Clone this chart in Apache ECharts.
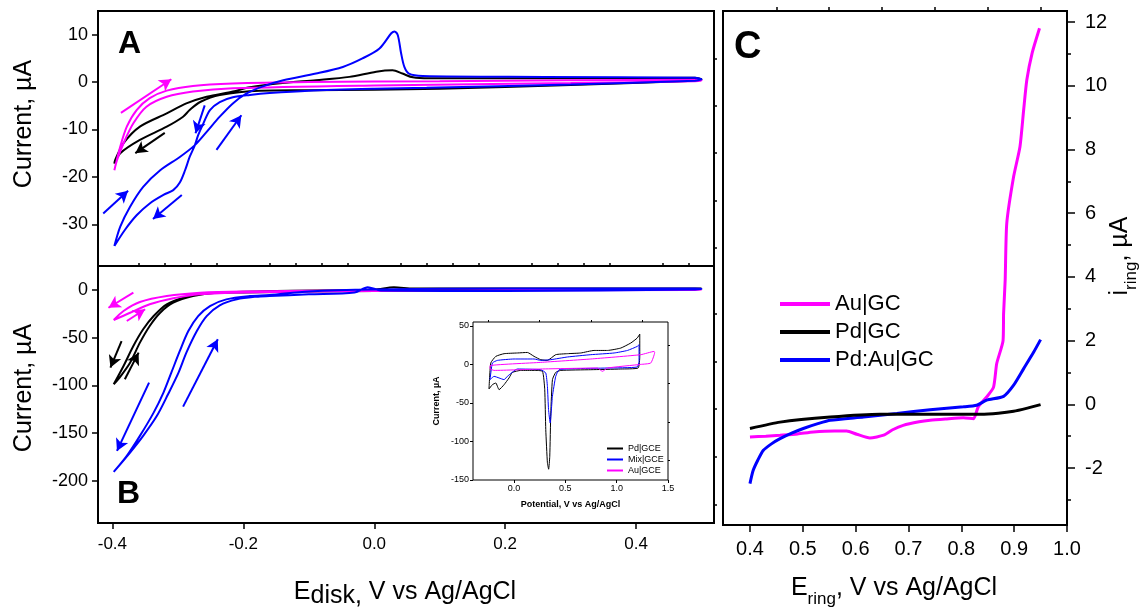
<!DOCTYPE html>
<html><head><meta charset="utf-8">
<script src="https://cdn.jsdelivr.net/npm/echarts@6/dist/echarts.min.js"></script>
<style>html,body{margin:0;padding:0;background:#fff}#c{width:1142px;height:609px}</style>
</head><body><div id="c"></div>
<script>
const FONT = "'Liberation Sans', Arial, Helvetica, sans-serif";

// ---------- Panel A (CV, small scale) : [E (V), I (uA)] ----------
const aBlack = [[-0.397,-17.2],[-0.396,-16.5],[-0.383,-12.9],[-0.358,-9.4],[-0.317,-6.6],[-0.287,-4.5],[-0.256,-3.1],[-0.216,-2.0],[-0.19,-1.1],[-0.14,-0.2],[-0.089,0.4],[-0.038,1.1],[0.003,2.2],[0.028,2.5],[0.043,1.8],[0.059,1.0],[0.084,0.8],[0.3,0.8],[0.49,0.9],[0.5,0.6],[0.49,0.3],[0.3,-0.6],[0.1,-1.4],[0.0,-1.6],[-0.1,-1.7],[-0.175,-1.8],[-0.236,-2.7],[-0.266,-4.2],[-0.282,-5.9],[-0.292,-7.3],[-0.317,-9.4],[-0.358,-12.2],[-0.388,-15.0],[-0.397,-17.2]];
const aPink = [[-0.397,-18.6],[-0.388,-13.6],[-0.378,-9.4],[-0.363,-5.9],[-0.343,-3.4],[-0.317,-1.8],[-0.277,-0.8],[-0.216,-0.3],[-0.1,0.0],[0.1,0.2],[0.49,0.5],[0.5,0.4],[0.49,0.2],[0.3,-0.2],[0.0,-0.7],[-0.216,-1.3],[-0.277,-2.0],[-0.317,-3.1],[-0.348,-5.2],[-0.368,-8.7],[-0.383,-12.9],[-0.393,-16.5],[-0.397,-18.6]];
const aBlue = [[-0.397,-34.6],[-0.388,-30.5],[-0.373,-26.3],[-0.353,-22.1],[-0.327,-18.6],[-0.297,-15.8],[-0.274,-13.3],[-0.256,-10.5],[-0.236,-7.3],[-0.216,-4.5],[-0.195,-2.4],[-0.17,-0.9],[-0.139,0.4],[-0.089,1.8],[-0.048,3.2],[-0.018,5.0],[0.008,7.1],[0.026,10.3],[0.031,10.7],[0.036,9.9],[0.041,6.1],[0.046,3.2],[0.053,1.8],[0.074,1.3],[0.26,1.1],[0.49,0.9],[0.5,0.6],[0.49,0.3],[0.3,-0.5],[0.08,-1.2],[0.0,-1.4],[-0.1,-1.8],[-0.16,-2.3],[-0.19,-2.7],[-0.216,-3.2],[-0.236,-4.2],[-0.251,-5.9],[-0.261,-8.7],[-0.269,-11.2],[-0.274,-13.3],[-0.282,-15.8],[-0.289,-18.6],[-0.297,-21.2],[-0.307,-22.8],[-0.322,-23.8],[-0.343,-25.6],[-0.363,-28.1],[-0.381,-31.2],[-0.397,-34.6]];
// arrows: [x0, y0, x1, y1]
const aArrowsBlue = [[-0.414,-27.7,-0.376,-22.9],[-0.294,-23.8,-0.338,-28.9],[-0.259,-4.9,-0.273,-10.8],[-0.241,-14.3,-0.203,-7.0]];
const aArrowsBlack = [[-0.320,-10.7,-0.365,-15.0]];
const aArrowsPink = [[-0.387,-6.5,-0.31,0.6]];

// ---------- Panel B (CV, large scale) ----------
const bBlack = [[-0.398,-98.9],[-0.391,-93.6],[-0.373,-76.2],[-0.358,-55.2],[-0.343,-37.7],[-0.327,-23.8],[-0.307,-13.3],[-0.277,-6.3],[-0.241,-2.8],[-0.15,-1.0],[0.0,0.5],[0.03,3.0],[0.06,1.5],[0.49,1.5],[0.5,1.5],[0.49,1.0],[0.2,0.0],[0.0,-1.0],[-0.2,-2.5],[-0.256,-3.5],[-0.291,-8.0],[-0.317,-15.0],[-0.337,-27.3],[-0.353,-41.2],[-0.368,-58.7],[-0.383,-79.7],[-0.398,-98.9]];
const bPink = [[-0.398,-31.5],[-0.373,-23.8],[-0.343,-15.0],[-0.307,-8.7],[-0.266,-4.5],[-0.2,-2.5],[0.0,-1.0],[0.49,0.5],[0.5,0.5],[0.49,0.0],[0.0,-0.5],[-0.2,-1.5],[-0.266,-2.8],[-0.317,-6.3],[-0.358,-12.6],[-0.383,-22.0],[-0.398,-31.5]];
const bBlue = [[-0.398,-190.8],[-0.373,-170.5],[-0.353,-153],[-0.332,-132],[-0.315,-109.4],[-0.299,-86.7],[-0.287,-65.7],[-0.271,-43],[-0.256,-27.3],[-0.236,-16],[-0.21,-9.8],[-0.18,-7.0],[-0.16,-6.3],[-0.1,-4.5],[-0.03,-2.5],[-0.01,3.0],[0.01,-0.5],[0.2,-1.0],[0.49,0.5],[0.5,1.0],[0.49,1.5],[0.2,1.5],[0.0,0.5],[-0.1,-1.5],[-0.16,-5.2],[-0.19,-6.3],[-0.226,-9.8],[-0.251,-16.8],[-0.269,-27.3],[-0.284,-43],[-0.297,-63.9],[-0.31,-86.7],[-0.322,-107.6],[-0.337,-128.6],[-0.358,-153],[-0.378,-174],[-0.398,-190.8]];
const bArrowsBlue = [[-0.344,-97.2,-0.393,-168.8],[-0.292,-122.3,-0.239,-51.7]];
const bArrowsBlack = [[-0.386,-53.5,-0.403,-81.4],[-0.381,-93.6,-0.36,-65.7]];
const bArrowsPink = [[-0.368,-2.8,-0.406,-18.6],[-0.378,-32.5,-0.35,-20.2]];

// ---------- Inset (CV in acid) ----------
const insPd = [[-0.244,-31.9],[-0.227,1.8],[-0.178,10.4],[-0.097,13.9],[0.033,14.8],[0.13,15.5],[0.195,10.4],[0.26,6.1],[0.325,5.2],[0.406,12.6],[0.52,13.9],[0.65,14.8],[0.78,18.1],[0.91,18.1],[1.04,21.2],[1.137,27.7],[1.2,34.2],[1.225,39.4],[1.225,10.4],[1.209,-4.7],[1.04,-6.0],[0.748,-6.9],[0.455,-7.8],[0.406,-10.4],[0.374,-19.8],[0.358,-63],[0.348,-119.2],[0.337,-136],[0.325,-127.7],[0.309,-84.6],[0.299,-32.8],[0.277,-9.0],[0.195,-7.8],[0.065,-7.8],[-0.016,-10.4],[-0.049,-17.6],[-0.097,-26.3],[-0.146,-32.8],[-0.178,-24.1],[-0.211,-26.3],[-0.244,-31.9]];
const insMix = [[-0.234,-19.8],[-0.211,1.8],[-0.162,5.2],[0.0,7.0],[0.195,7.0],[0.26,5.2],[0.358,6.1],[0.52,9.6],[0.748,12.6],[0.975,14.8],[1.105,18.1],[1.2,23.3],[1.218,25.5],[1.218,3.9],[1.2,-3.4],[0.91,-4.7],[0.585,-5.6],[0.439,-6.9],[0.406,-15.5],[0.374,-41.4],[0.352,-76],[0.336,-58.7],[0.325,-28.5],[0.309,-11.2],[0.26,-6.9],[0.033,-6.0],[-0.065,-15.5],[-0.097,-19.8],[-0.146,-17.6],[-0.195,-15.5],[-0.227,-18.9],[-0.234,-19.8]];
const insAu = [[-0.234,-6.0],[-0.234,-1.7],[0.26,2.6],[0.748,7.0],[1.235,12.6],[1.365,16.8],[1.37,15.5],[1.332,1.8],[1.235,0.0],[0.91,-4.7],[0.861,-9.0],[0.813,-4.7],[0.26,-6.0],[-0.195,-7.8],[-0.234,-6.0]];

// ---------- Panel C (ring current) ----------
const cAu = [[0.4,-1.03],[0.43,-1.0],[0.457,-0.97],[0.49,-0.93],[0.52,-0.87],[0.56,-0.84],[0.583,-0.84],[0.602,-0.94],[0.627,-1.06],[0.653,-0.97],[0.67,-0.8],[0.69,-0.66],[0.72,-0.55],[0.741,-0.50],[0.77,-0.46],[0.804,-0.42],[0.823,-0.45],[0.832,-0.08],[0.848,0.23],[0.861,0.54],[0.867,1.28],[0.879,2.0],[0.88,2.85],[0.883,3.9],[0.886,5.68],[0.899,7.15],[0.911,8.09],[0.918,9.25],[0.924,10.19],[0.934,11.03],[0.948,11.81]];
const cPd = [[0.4,-0.76],[0.457,-0.56],[0.552,-0.40],[0.646,-0.31],[0.741,-0.31],[0.836,-0.31],[0.87,-0.28],[0.899,-0.22],[0.925,-0.12],[0.95,-0.01]];
const cPdAu = [[0.4,-2.49],[0.406,-2.08],[0.415,-1.75],[0.425,-1.45],[0.44,-1.25],[0.457,-1.08],[0.48,-0.9],[0.501,-0.76],[0.53,-0.6],[0.552,-0.50],[0.615,-0.40],[0.678,-0.29],[0.741,-0.17],[0.804,-0.08],[0.829,-0.03],[0.848,0.13],[0.88,0.25],[0.899,0.6],[0.918,1.12],[0.937,1.64],[0.95,2.03]];

// ---------- tick values ----------
const xMajorAB = [-0.4,-0.2,0,0.2,0.4];
const xMinorAB = [-0.36,-0.32,-0.28,-0.24,-0.16,-0.12,-0.08,-0.04,0.04,0.08,0.12,0.16,0.24,0.28,0.32,0.36,0.44,0.48];
const yMajorA = [-30,-20,-10,0,10];
const yMinorA = [-35,-25,-15,-5,5];
const yMajorB = [-200,-150,-100,-50,0];
const yMinorB = [-225,-175,-125,-75,-25];
const xMajorC = [0.4,0.5,0.6,0.7,0.8,0.9,1.0];
const xMinorC = [0.45,0.55,0.65,0.75,0.85,0.95];
const yMajorC = [-2,0,2,4,6,8,10,12];
const yMinorC = [-3,-1,1,3,5,7,9,11];
const xMajorIn = [0,0.5,1,1.5];
const xMinorIn = [-0.25,0.25,0.75,1.25];
const yMajorIn = [-150,-100,-50,0,50];
const yMinorIn = [-125,-75,-25,25];

const BLUE = '#0000ff', PINK = '#ff00ff', BLACK = '#000000';
const chart = echarts.init(document.getElementById('c'), null, {renderer: 'canvas'});

function tickAxis(grid, min, max, vals, len, opts) {
  opts = opts || {};
  const labelOn = !!opts.label;
  return Object.assign({
    gridIndex: grid, type: 'value', min: min, max: max,
    axisLine: {show: false, onZero: false},
    splitLine: {show: false},
    axisTick: {show: vals.length > 0, customValues: vals, length: len, inside: false, lineStyle: {color: '#000', width: opts.tw || 1.5}},
    axisLabel: labelOn ? Object.assign({show: true, customValues: vals, color: '#000', fontFamily: FONT}, opts.label) : {show: false}
  }, opts.extra || {});
}
const fx1 = v => v.toFixed(1);

function arrows(list) {
  return list.map(a => [{coord: [a[0], a[1]]}, {coord: [a[2], a[3]]}]);
}
function curve(name, data, color, xi, yi, width, arr, smooth) {
  const s = {
    name: name, type: 'line', data: data, xAxisIndex: xi, yAxisIndex: yi,
    color: color, showSymbol: false, symbol: 'none', smooth: smooth === undefined ? 0.3 : smooth,
    lineStyle: {color: color, width: width}, clip: true, silent: true, animation: false
  };
  if (arr && arr.length) {
    s.markLine = {
      silent: true, animation: false, symbol: ['none', 'arrow'], symbolSize: [10, 12],
      label: {show: false}, emphasis: {disabled: true},
      lineStyle: {color: color, width: 2, type: 'solid'},
      data: arrows(arr)
    };
  }
  return s;
}

const gridBase = {show: true, borderColor: '#000', containLabel: false, outerBoundsMode: 'none'};
const option = {
  animation: false,
  backgroundColor: '#fff',
  textStyle: {fontFamily: FONT},
  grid: [
    Object.assign({left: 98, top: 11, width: 616, height: 255, borderWidth: 2}, gridBase),
    Object.assign({left: 98, top: 266, width: 616, height: 257, borderWidth: 2}, gridBase),
    Object.assign({left: 723, top: 11, width: 344, height: 514, borderWidth: 2}, gridBase),
    Object.assign({left: 473, top: 322, width: 195, height: 158, borderWidth: 1, backgroundColor: '#fff'}, gridBase)
  ],
  xAxis: [
    tickAxis(0, -0.422, 0.519, [], 0),
    tickAxis(1, -0.422, 0.519, xMajorAB, 6, {label: {formatter: fx1, fontSize: 17, margin: 13}}),
    tickAxis(1, -0.422, 0.519, xMinorAB, 3),
    tickAxis(2, 0.349, 1.0, xMajorC, 7, {label: {formatter: fx1, fontSize: 20, margin: 14}}),
    tickAxis(2, 0.349, 1.0, xMinorC, 4),
    tickAxis(3, -0.4, 1.5, xMajorIn, 3, {tw: 1, label: {formatter: fx1, fontSize: 9, margin: 4},
      extra: {name: 'Potential, V vs Ag/AgCl', nameLocation: 'middle', nameGap: 20,
        nameTextStyle: {fontSize: 9, fontWeight: 'bold', color: '#000', fontFamily: FONT}}}),
    tickAxis(3, -0.4, 1.5, xMinorIn, 2, {tw: 1})
  ],
  yAxis: [
    tickAxis(0, -38.8, 15, yMajorA, 6, {label: {fontSize: 18, margin: 10}}),
    tickAxis(0, -38.8, 15, yMinorA, 3),
    tickAxis(1, -244.4, 25.2, yMajorB, 6, {label: {fontSize: 18, margin: 10}}),
    tickAxis(1, -244.4, 25.2, yMinorB, 3),
    tickAxis(2, -3.79, 12.35, yMajorC, 8, {label: {fontSize: 20, margin: 18}, extra: {position: 'right'}}),
    tickAxis(2, -3.79, 12.35, yMinorC, 4, {extra: {position: 'right'}}),
    tickAxis(3, -150, 55, yMajorIn, 3, {tw: 1, label: {fontSize: 9, margin: 4},
      extra: {name: 'Current, \u00b5A', nameLocation: 'middle', nameGap: 32, nameRotate: 90,
        nameTextStyle: {fontSize: 9, fontWeight: 'bold', color: '#000', fontFamily: FONT}}}),
    tickAxis(3, -150, 55, yMinorIn, 2, {tw: 1})
  ],
  legend: [
    {data: ['Au|GC', 'Pd|GC', 'Pd:Au|GC'], orient: 'vertical', left: 780, top: 293, padding: 0,
      itemWidth: 50, itemHeight: 4, itemGap: 6, icon: 'rect', selectedMode: false,
      textStyle: {fontSize: 22, color: '#000', fontFamily: FONT}},
    {data: ['Pd|GCE', 'Mix|GCE', 'Au|GCE'], orient: 'vertical', left: 607, top: 444, padding: 0,
      itemWidth: 16, itemHeight: 2, itemGap: 2, icon: 'rect', selectedMode: false,
      textStyle: {fontSize: 9, color: '#000', fontFamily: FONT}}
  ],
  series: [
    curve('A black', aBlack, BLACK, 0, 0, 2, aArrowsBlack),
    curve('A pink', aPink, PINK, 0, 0, 2, aArrowsPink),
    curve('A blue', aBlue, BLUE, 0, 0, 2, aArrowsBlue),
    curve('B black', bBlack, BLACK, 1, 2, 2, bArrowsBlack),
    curve('B pink', bPink, PINK, 1, 2, 2, bArrowsPink),
    curve('B blue', bBlue, BLUE, 1, 2, 2, bArrowsBlue),
    curve('Au|GC', cAu, PINK, 3, 4, 3, null, 0.2),
    curve('Pd:Au|GC', cPdAu, BLUE, 3, 4, 3, null, 0.2),
    curve('Pd|GC', cPd, BLACK, 3, 4, 3, null, 0.2),
    curve('Pd|GCE', insPd, BLACK, 5, 6, 1, null, 0.15),
    curve('Mix|GCE', insMix, BLUE, 5, 6, 1, null, 0.15),
    curve('Au|GCE', insAu, PINK, 5, 6, 1, null, 0.15)
  ],
  graphic: [
    {type: 'text', x: 118, y: 44, style: {text: 'A', font: 'bold 32px ' + FONT, fill: '#000', align: 'left', verticalAlign: 'middle'}},
    {type: 'text', x: 117, y: 494, style: {text: 'B', font: 'bold 32px ' + FONT, fill: '#000', align: 'left', verticalAlign: 'middle'}},
    {type: 'text', x: 734, y: 48, style: {text: 'C', font: 'bold 38px ' + FONT, fill: '#000', align: 'left', verticalAlign: 'middle'}},
    {type: 'text', x: 24, y: 124, rotation: Math.PI / 2, style: {text: 'Current, \u00b5A', font: '25px ' + FONT, fill: '#000', align: 'center', verticalAlign: 'middle'}},
    {type: 'text', x: 24, y: 388, rotation: Math.PI / 2, style: {text: 'Current, \u00b5A', font: '25px ' + FONT, fill: '#000', align: 'center', verticalAlign: 'middle'}},
    {type: 'text', x: 405, y: 594, style: {text: '{n|E}{s|disk,}{n| V vs Ag/AgCl}', align: 'center', verticalAlign: 'middle',
      rich: {n: {fontSize: 25, fontFamily: FONT, fill: '#000', verticalAlign: 'bottom', padding: [0, 0, 4, 0]},
             s: {fontSize: 25, fontFamily: FONT, fill: '#000', verticalAlign: 'bottom'}}}},
    {type: 'text', x: 894, y: 592, style: {text: '{n|E}{s|ring}{n|, V vs Ag/AgCl}', align: 'center', verticalAlign: 'middle',
      rich: {n: {fontSize: 25, fontFamily: FONT, fill: '#000', verticalAlign: 'bottom', padding: [0, 0, 7, 0]},
             s: {fontSize: 17, fontFamily: FONT, fill: '#000', verticalAlign: 'bottom'}}}},
    {type: 'text', x: 1124, y: 256, rotation: Math.PI / 2, style: {text: '{n|i}{s|ring}{n|, \u00b5A}', align: 'center', verticalAlign: 'middle',
      rich: {n: {fontSize: 25, fontFamily: FONT, fill: '#000', verticalAlign: 'bottom', padding: [0, 0, 7, 0]},
             s: {fontSize: 17, fontFamily: FONT, fill: '#000', verticalAlign: 'bottom'}}}}
  ]
};
chart.setOption(option);
</script>
</body></html>
